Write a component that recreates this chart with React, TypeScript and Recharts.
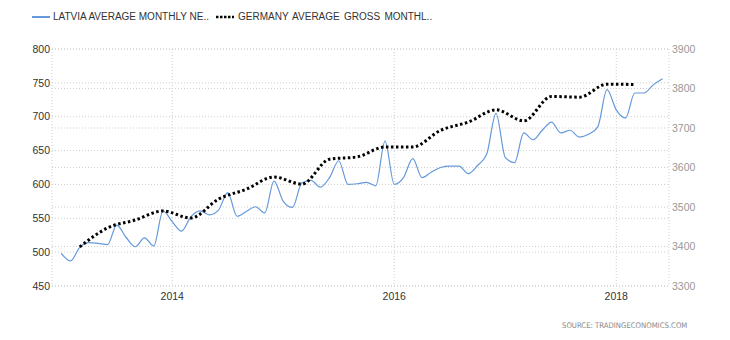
import React from 'react';
import { LineChart, Line, XAxis, YAxis, CartesianGrid, Legend } from 'recharts';

// Latvia average monthly net wage (EUR), monthly Jan 2013 .. Jun 2018
const latviaValues = [
  498, 487, 507, 514, 513, 511, 540, 522, 508, 521, 509, 561,
  545, 531, 552, 561, 555, 562, 588, 553, 560, 567, 558, 605,
  575, 566, 602, 606, 596, 610, 635, 600, 601, 603, 598, 664,
  600, 610, 638, 610, 618, 625, 627, 627, 616, 628, 645, 705,
  640, 632, 676, 666, 680, 692, 676, 680, 670, 674, 685, 740,
  710, 698, 735, 735, 747, 756,
];
// Germany average gross monthly wage (EUR), quarterly Q1 2013 .. Q1 2018
const germanyMonthIndex = [2, 5, 8, 11, 14, 17, 20, 23, 26, 29, 32, 35, 38, 41, 44, 47, 50, 53, 56, 59, 62];
const germanyValues = [
  3399, 3447, 3467, 3490, 3472, 3520, 3545, 3576, 3558, 3621, 3627,
  3652, 3652, 3694, 3715, 3746, 3718, 3780, 3778, 3811, 3810,
];
const xTicks = [12, 36, 60];
const xTickLabels = ['2014', '2016', '2018'];
const leftTicks = [450, 500, 550, 600, 650, 700, 750, 800];
const rightTicks = [3300, 3400, 3500, 3600, 3700, 3800, 3900];
const seriesNames = ['LATVIA AVERAGE MONTHLY NE..', 'GERMANY AVERAGE GROSS MONTHL..'];

const data = latviaValues.map((v, i) => {
  const gi = germanyMonthIndex.indexOf(i);
  return { m: i, latvia: v, germany: gi >= 0 ? germanyValues[gi] : null };
});

const FONT = '"Liberation Sans", Arial, sans-serif';
const BLUE = '#6499db';

const LegendContent = () => (
  <div style={{ height: 20, position: 'relative', fontFamily: FONT, fontSize: 10, color: '#333' }}>
    <svg width={20} height={4} style={{ position: 'absolute', left: 32, top: 7 }}>
      <line x1={0} y1={2} x2={18} y2={2} stroke={BLUE} strokeWidth={2} />
    </svg>
    <span style={{ position: 'absolute', left: 53, top: 3, whiteSpace: 'nowrap' }}>{seriesNames[0]}</span>
    <svg width={20} height={4} style={{ position: 'absolute', left: 216, top: 7 }}>
      <line x1={0} y1={2} x2={18} y2={2} stroke="#000" strokeWidth={2.5} strokeDasharray="2.5 1.5" />
    </svg>
    <span style={{ position: 'absolute', left: 238, top: 3, whiteSpace: 'nowrap', wordSpacing: 1.5 }}>{seriesNames[1]}</span>
  </div>
);

export default function App() {
  return (
    <div style={{ position: 'absolute', left: 0, top: 0, width: 730, height: 340, background: '#fff' }}>
      <LineChart width={730} height={340} data={data} margin={{ top: 29, right: 0, bottom: 24, left: 0 }}>
        <CartesianGrid yAxisId="left" vertical={false} stroke="#cfcfcf" strokeDasharray="1 2" />
        <CartesianGrid yAxisId="right" vertical={true} horizontal={true} stroke="#cfcfcf" strokeDasharray="1 2" />
        <XAxis
          dataKey="m"
          type="number"
          domain={[-1, 65.7]}
          ticks={xTicks}
          tickFormatter={(v: number) => xTickLabels[xTicks.indexOf(v)] ?? ''}
          axisLine={false}
          tickLine={false}
          tickSize={0}
          tickMargin={7}
          height={30}
          tick={{ fill: '#333', fontSize: 10.5, fontFamily: FONT }}
        />
        <YAxis
          yAxisId="left"
          orientation="left"
          domain={[450, 800]}
          ticks={leftTicks}
          axisLine={false}
          tickLine={false}
          tickSize={0}
          tickMargin={2}
          width={52}
          tick={{ fill: '#333', fontSize: 10.5, fontFamily: FONT }}
          allowDataOverflow
        />
        <YAxis
          yAxisId="right"
          orientation="right"
          domain={[3300, 3900]}
          ticks={rightTicks}
          axisLine={false}
          tickLine={false}
          tickSize={0}
          tickMargin={3}
          width={61}
          tick={{ fill: '#999', fontSize: 10.5, fontFamily: FONT }}
          allowDataOverflow
        />
        <Legend verticalAlign="top" align="left" content={LegendContent} wrapperStyle={{ top: 8, left: 0, width: 730 }} />
        <Line
          yAxisId="left"
          type="monotone"
          dataKey="latvia"
          name={seriesNames[0]}
          stroke={BLUE}
          strokeWidth={1.2}
          dot={false}
          isAnimationActive={false}
        />
        <Line
          yAxisId="right"
          type="monotone"
          dataKey="germany"
          name={seriesNames[1]}
          stroke="#000"
          strokeWidth={3}
          strokeDasharray="2.5 2.5"
          dot={false}
          connectNulls
          isAnimationActive={false}
        />
      </LineChart>
      <div style={{ position: 'absolute', left: 562, top: 321, fontFamily: '"DejaVu Sans Condensed", "DejaVu Sans", sans-serif', fontSize: 7.7, color: '#888', whiteSpace: 'nowrap' }}>
        SOURCE: TRADINGECONOMICS.COM
      </div>
    </div>
  );
}
